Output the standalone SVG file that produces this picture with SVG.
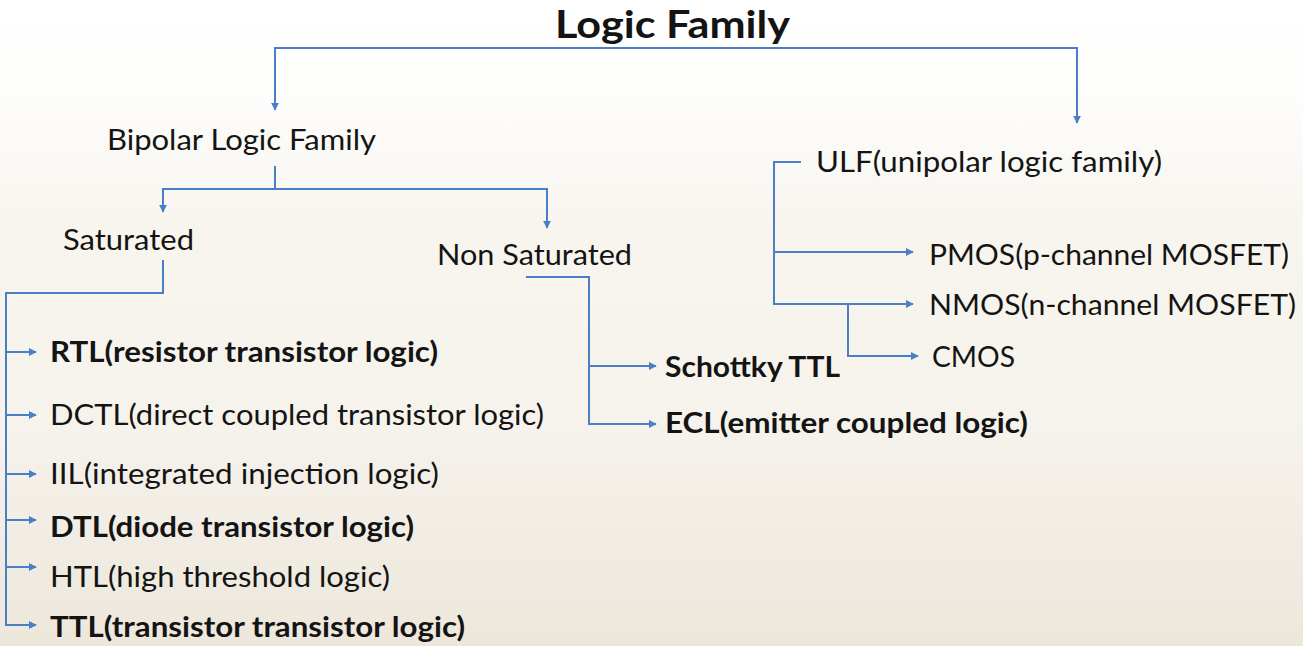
<svg xmlns="http://www.w3.org/2000/svg" width="1303" height="646" viewBox="0 0 1303 646">
<defs>
<linearGradient id="bg" x1="0" y1="0" x2="0" y2="1">
<stop offset="0" stop-color="#ffffff"/>
<stop offset="0.12" stop-color="#fefefd"/>
<stop offset="0.35" stop-color="#f8f5ef"/>
<stop offset="0.65" stop-color="#f6f3ed"/>
<stop offset="1" stop-color="#ede7db"/>
</linearGradient>
<marker id="ah" viewBox="0 0 10 10" refX="9" refY="5" markerWidth="4" markerHeight="4" markerUnits="strokeWidth" orient="auto">
<path d="M0,0 L10,5 L0,10 z" fill="#4a7fc6"/>
</marker>
<style>
.t{font-family:Lato,"Open Sans","Liberation Sans",sans-serif;font-size:28px;fill:#141414}
.b{font-weight:bold}
.ttl{font-size:38px;font-weight:bold}
.c{fill:none;stroke:#4a7fc6;stroke-width:2}
.a{marker-end:url(#ah)}
</style>
</defs>
<rect x="0" y="0" width="1303" height="646" fill="url(#bg)"/>
<g id="connectors">
<path class="c a" d="M640,48 H275 V110"/>
<path class="c a" d="M640,48 H1077 V123"/>
<path class="c a" d="M275,166 V189 H163 V212"/>
<path class="c a" d="M275,189 H547 V228"/>
<path class="c a" d="M163,260 V293 H6 V625 H36"/>
<path class="c a" d="M6,352 H36"/>
<path class="c a" d="M6,415 H36"/>
<path class="c a" d="M6,474 H36"/>
<path class="c a" d="M6,520 H36"/>
<path class="c a" d="M6,567 H36"/>
<path class="c a" d="M526,277 H589 V424 H656"/>
<path class="c a" d="M589,366 H656"/>
<path class="c a" d="M801,162 H774 V304 H913"/>
<path class="c a" d="M774,252 H913"/>
<path class="c a" d="M848,304 V356 H918"/>
</g>
<g id="logic-family"><text class="t ttl" x="555" y="38" textLength="235" lengthAdjust="spacingAndGlyphs">Logic Family</text></g>
<g id="bipolar"><text class="t" x="107" y="150" textLength="269" lengthAdjust="spacingAndGlyphs">Bipolar Logic Family</text></g>
<g id="saturated"><text class="t" x="63" y="250" textLength="131" lengthAdjust="spacingAndGlyphs">Saturated</text></g>
<g id="non-saturated"><text class="t" x="437" y="265" textLength="195" lengthAdjust="spacingAndGlyphs">Non Saturated</text></g>
<g id="ulf"><text class="t" x="816" y="172" textLength="346" lengthAdjust="spacingAndGlyphs">ULF(unipolar logic family)</text></g>
<g id="pmos"><text class="t" x="929" y="265" textLength="360" lengthAdjust="spacingAndGlyphs">PMOS(p-channel MOSFET)</text></g>
<g id="nmos"><text class="t" x="929" y="315" textLength="367" lengthAdjust="spacingAndGlyphs">NMOS(n-channel MOSFET)</text></g>
<g id="cmos"><text class="t" x="932" y="367" textLength="83" lengthAdjust="spacingAndGlyphs">CMOS</text></g>
<g id="schottky"><text class="t b" x="665" y="377" textLength="175" lengthAdjust="spacingAndGlyphs">Schottky TTL</text></g>
<g id="ecl"><text class="t b" x="665" y="433" textLength="363" lengthAdjust="spacingAndGlyphs">ECL(emitter coupled logic)</text></g>
<g id="rtl"><text class="t b" x="50" y="362" textLength="388" lengthAdjust="spacingAndGlyphs">RTL(resistor transistor logic)</text></g>
<g id="dctl"><text class="t" x="50" y="425" textLength="494" lengthAdjust="spacingAndGlyphs">DCTL(direct coupled transistor logic)</text></g>
<g id="iil"><text class="t" x="50" y="484" textLength="389" lengthAdjust="spacingAndGlyphs">IIL(integrated injection logic)</text></g>
<g id="dtl"><text class="t b" x="50" y="537" textLength="364" lengthAdjust="spacingAndGlyphs">DTL(diode transistor logic)</text></g>
<g id="htl"><text class="t" x="50" y="587" textLength="340" lengthAdjust="spacingAndGlyphs">HTL(high threshold logic)</text></g>
<g id="ttl"><text class="t b" x="50" y="637" textLength="415" lengthAdjust="spacingAndGlyphs">TTL(transistor transistor logic)</text></g>
</svg>
